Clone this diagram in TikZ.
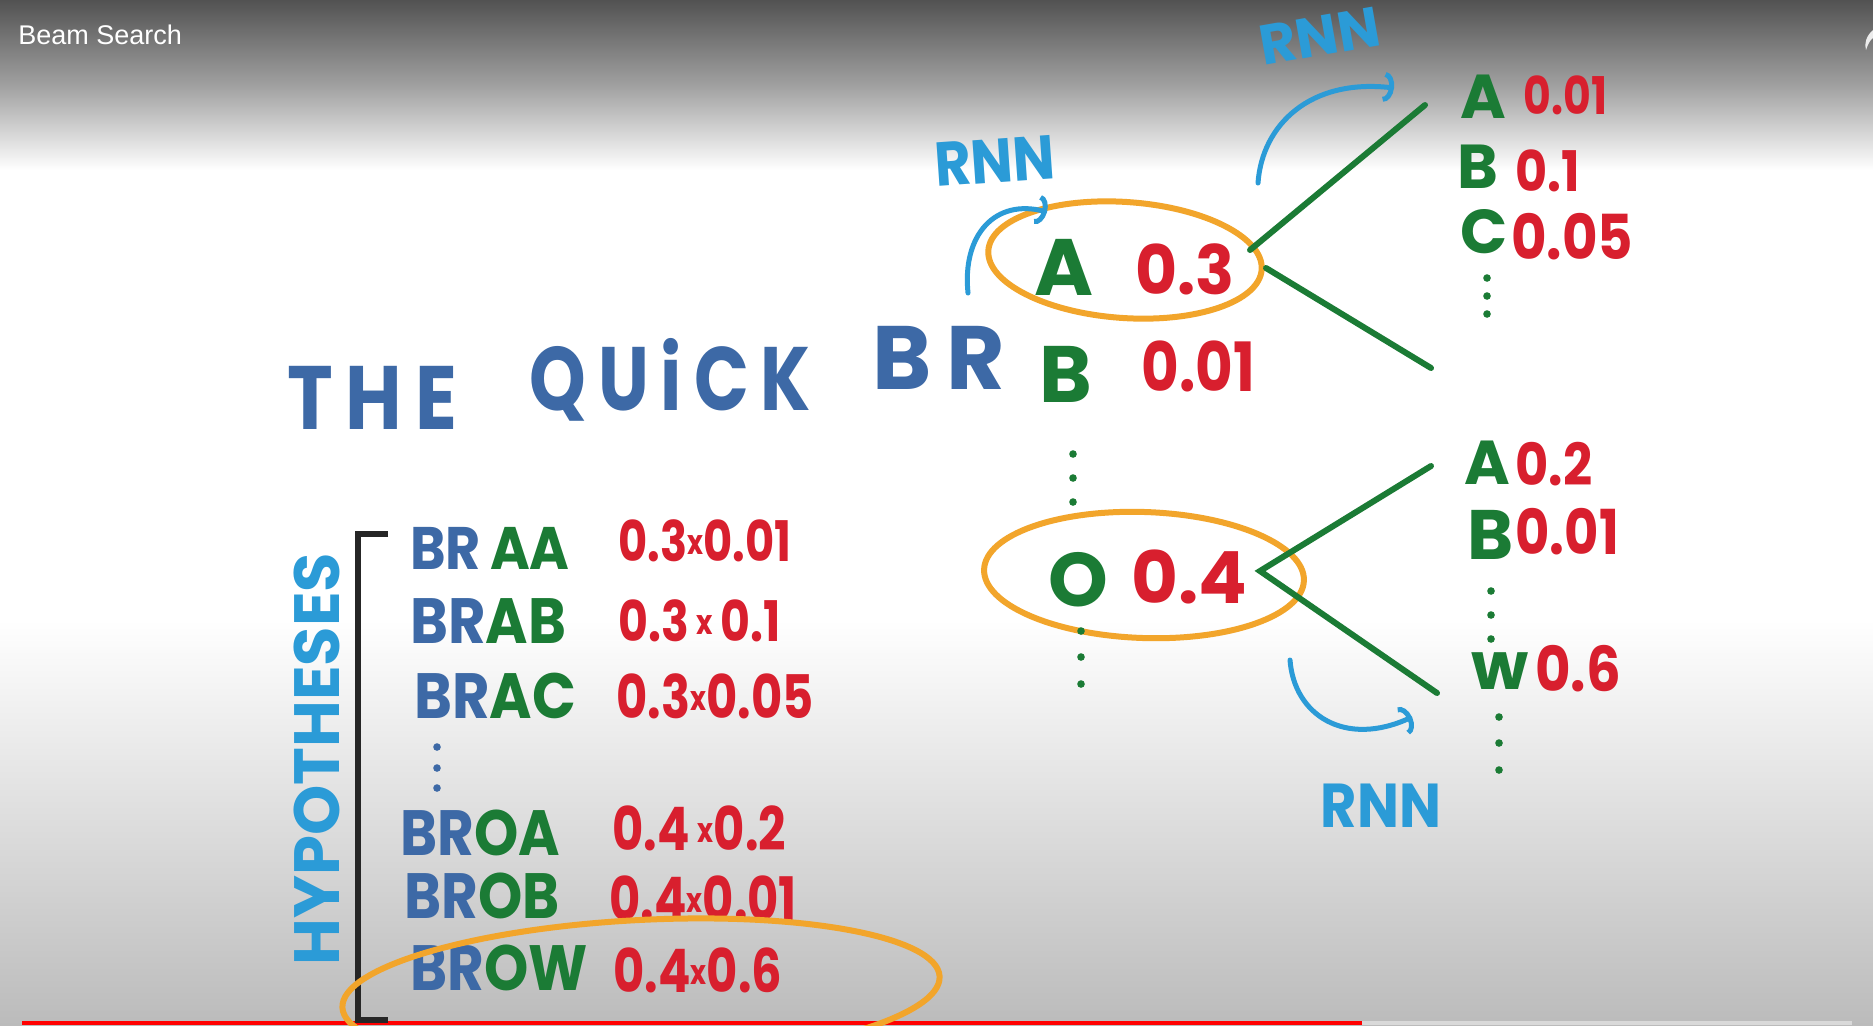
\documentclass[tikz,border=0pt]{standalone}
\usepackage{graphicx}
\usepackage{fontspec}
\setmainfont{Poppins}
\newfontfamily\uifont{Liberation Sans}
\usetikzlibrary{arrows.meta,shapes.geometric}
\definecolor{inkblue}{HTML}{3D69A6}
\definecolor{skyblue}{HTML}{2B9BD7}
\definecolor{inkgreen}{HTML}{1B7B35}
\definecolor{inkred}{HTML}{D81F2E}
\definecolor{inkorange}{HTML}{F2A52B}
\definecolor{topgray}{HTML}{525252}
\definecolor{midgray}{HTML}{A0A0A0}
\definecolor{lowgray}{HTML}{BBBBBB}
\newcommand\fsz[1]{\fontsize{#1}{#1}\selectfont\bfseries}
\newcommand\sq[2]{\scalebox{#1}[1]{#2}}
\newcommand\tx{\raisebox{0.12em}{\fsz{17}x}}
\begin{document}
\begin{tikzpicture}[x=0.5pt,y=-0.5pt,
  txt/.style={inner sep=0pt, anchor=west},
  gr/.style={txt, text=inkgreen},
  rd/.style={txt, text=inkred},
  bl/.style={txt, text=inkblue},
  rnn/.style={inner sep=0pt, text=skyblue, font=\fsz{31}},
  branch/.style={draw=inkgreen, line width=3pt, line cap=round},
  ring/.style={draw=inkorange, line width=3pt, ellipse, inner sep=0pt},
  curl/.style={draw=skyblue, line width=2.5pt, line cap=round, -{Arc Barb[length=5pt,width=15pt]}},
  dot/.style={fill=inkgreen}]
\useasboundingbox (0,0) rectangle (1873,1025);
\clip (0,0) rectangle (1873,1025);
% background
\fill[white] (0,0) rectangle (1873,1025);
\fill[top color=topgray, bottom color=white, middle color=midgray] (0,0) rectangle (1873,170);
\fill[top color=white, bottom color=lowgray] (0,620) rectangle (1873,1025);
\fill[red] (22,1021) rectangle (1362,1025);
\fill[gray!30] (1362,1021) rectangle (1852,1025);
\node[txt, text=white, font=\uifont\fontsize{13.5}{13.5}\selectfont] (title) at (18,35) {Beam Search};
\fill[white!85!gray] (1873,30) .. controls (1866,36) and (1864,44) .. (1866,50) .. controls (1868,44) and (1870,40) .. (1873,38) -- cycle;

% sentence
\node[bl, font=\fsz{45}] (the) at (287,398) {\sq{0.86}{T\,H\,E}};
\node[bl, font=\fsz{45}] (quick) at (529,380) {\sq{0.8}{Q\,U\,i\,C\,K}};
\node[bl, font=\fsz{45}] (br) at (872,358) {B\,R};

% top candidate
\node[ring, minimum width=137pt, minimum height=58pt, rotate=-4] (ea) at (1125,260) {};
\node[gr, font=\fsz{40}] (tA) at (1034,267) {A};
\node[rd, font=\fsz{34}] (t03) at (1135,269) {\sq{0.95}{0.3}};
\node[gr, font=\fsz{40}] (tB) at (1039,374) {B};
\node[rd, font=\fsz{34}] (t001) at (1141,366) {\sq{0.85}{0.01}};
\foreach \yy in {454,478,502} \fill[dot] (1073,\yy) circle (1.9pt);

% bottom candidate
\node[ring, minimum width=160pt, minimum height=63pt, rotate=-2] (eo) at (1144,575) {};
\node[gr, font=\fsz{38}] (tO) at (1048,580) {O};
\node[rd, font=\fsz{36}] (t04) at (1131,577) {0.4};
\foreach \yy in {631,657,684} \fill[dot] (1081,\yy) circle (1.9pt);

% top branches
\coordinate (ja) at (1250,250);
\coordinate (ja2) at (1266,268);
\coordinate (ua) at (1425,105);
\coordinate (la) at (1431,368);
\draw[branch] (ja) -- (ua);
\draw[branch] (ja2) -- (la);
\node[gr, font=\fsz{31}] (rA1) at (1460,97) {A};
\node[rd, font=\fsz{26}] (rA1p) at (1523,95) {\sq{0.82}{0.01}};
\node[gr, font=\fsz{31}] (rB1) at (1457,167) {B};
\node[rd, font=\fsz{28}] (rB1p) at (1515,171) {\sq{0.88}{0.1}};
\node[gr, font=\fsz{31}] (rC1) at (1460,232) {C};
\node[rd, font=\fsz{31}] (rC1p) at (1511,237) {\sq{0.88}{0.05}};
\foreach \yy in {278,296,314} \fill[dot] (1487,\yy) circle (1.9pt);

% bottom branches
\coordinate (jo) at (1260,571);
\coordinate (uo) at (1431,466);
\coordinate (lo) at (1437,693);
\draw[branch] (uo) -- (jo) -- (lo);
\node[gr, font=\fsz{31}] (rA2) at (1464,463) {A};
\node[rd, font=\fsz{29}] (rA2p) at (1515,464) {\sq{0.88}{0.2}};
\node[gr, font=\fsz{35}] (rB2) at (1467,535) {B};
\node[rd, font=\fsz{31}] (rB2p) at (1515,532) {\sq{0.85}{0.01}};
\foreach \yy in {591,615,639} \fill[dot] (1491,\yy) circle (1.9pt);
\node[gr, font=\fsz{33}] (rW2) at (1471,671) {w};
\node[rd, font=\fsz{31}] (rW2p) at (1535,669) {\sq{0.88}{0.6}};
\foreach \yy in {717,743,770} \fill[dot] (1499,\yy) circle (1.9pt);

% RNN labels and arrows
\node[rnn, font=\fsz{28}, rotate=10] (rnnT) at (1320,36) {RNN};
\node[rnn, rotate=4] (rnnL) at (995,161) {\sq{0.9}{RNN}};
\node[rnn] (rnnB) at (1381,806) {\sq{0.9}{RNN}};
\coordinate (cL0) at (968,293);
\coordinate (cL1) at (1047,212);
\coordinate (cT0) at (1258,183);
\coordinate (cT1) at (1394,88);
\coordinate (cB0) at (1290,660);
\coordinate (cB1) at (1412,717);
\draw[curl] (cL0) .. controls (962,235) and (995,198) .. (cL1);
\draw[curl] (cT0) .. controls (1262,125) and (1310,78) .. (cT1);
\draw[curl] (cB0) .. controls (1294,715) and (1345,748) .. (cB1);

% hypotheses
\node[inner sep=0pt, text=skyblue, font=\fsz{32}, rotate=90] (hyp) at (317,759) {HYPOTHESES};
\coordinate (bk1) at (388,534);
\coordinate (bk2) at (358,534);
\coordinate (bk3) at (358,1020);
\coordinate (bk4) at (388,1020);
\draw[line width=2.6pt, black!85] (bk1) -- (bk2) -- (bk3) -- (bk4);

\node[bl, font=\fsz{30}] (h1) at (410,548) {\sq{0.9}{BR\,\textcolor{inkgreen}{AA}}};
\node[rd, font=\fsz{28}] (h1p) at (618,541) {\sq{0.8}{0.3\tx0.01}};
\node[bl, font=\fsz{32}] (h2) at (410,621) {\sq{0.9}{BR\textcolor{inkgreen}{AB}}};
\node[rd, font=\fsz{28}] (h2p) at (618,621) {\sq{0.82}{0.3\,\tx\,0.1}};
\node[bl, font=\fsz{32}] (h3) at (414,696) {\sq{0.9}{BR\textcolor{inkgreen}{AC}}};
\node[rd, font=\fsz{30}] (h3p) at (616,696) {\sq{0.8}{0.3\tx0.05}};
\foreach \yy in {747,768,788} \fill[inkblue] (437,\yy) circle (1.9pt);
\node[bl, font=\fsz{32}] (h4) at (400,833) {\sq{0.88}{BR\textcolor{inkgreen}{OA}}};
\node[rd, font=\fsz{30}] (h4p) at (612,828) {\sq{0.8}{0.4\,\tx0.2}};
\node[bl, font=\fsz{32}] (h5) at (404,896) {\sq{0.88}{BR\textcolor{inkgreen}{OB}}};
\node[rd, font=\fsz{30}] (h5p) at (609,898) {\sq{0.8}{0.4\tx0.01}};
\node[bl, font=\fsz{32}] (h6) at (410,968) {\sq{0.88}{BR\textcolor{inkgreen}{OW}}};
\node[rd, font=\fsz{30}] (h6p) at (613,970) {\sq{0.8}{0.4\tx0.6}};
\node[ring, minimum width=299pt, minimum height=72pt, rotate=3] (eh) at (641,992) {};
\end{tikzpicture}
\end{document}
